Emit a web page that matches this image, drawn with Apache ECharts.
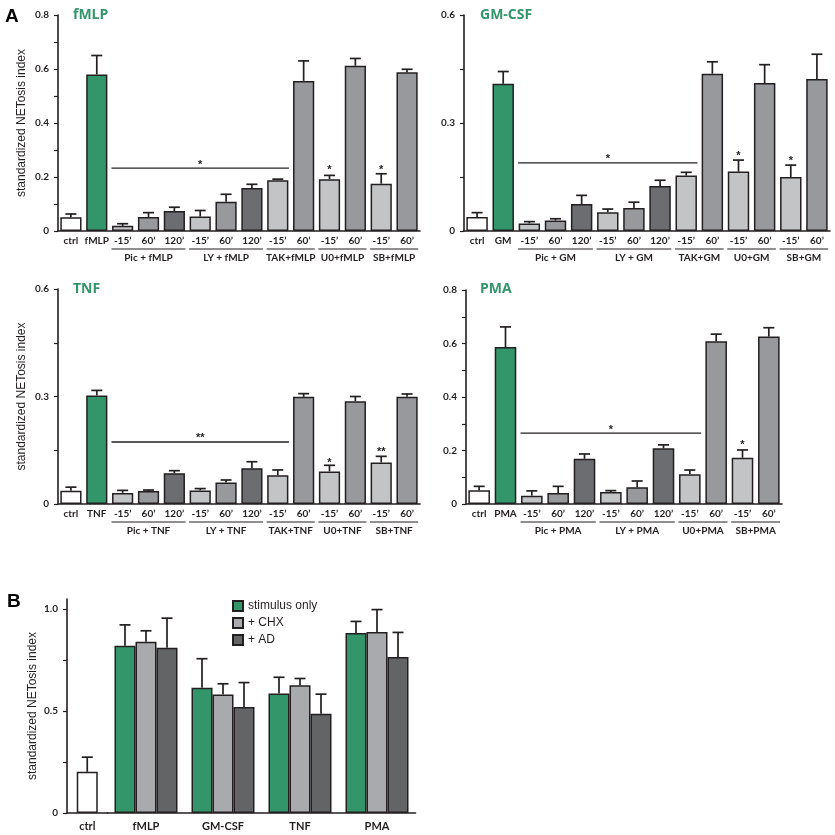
<!DOCTYPE html>
<html>
<head>
<meta charset="utf-8">
<title>standardized NETosis index</title>
<script src="https://cdn.jsdelivr.net/npm/echarts@6/dist/echarts.min.js"></script>
<style>
    html, body { margin: 0; padding: 0; background: #fff; }
    #main { width: 835px; height: 835px; }
</style>
</head>
<body>
<div id="main"></div>
<script type="text/javascript">
    // ---- panel A data (bar value, top of error bar) ----
    var fmlpCats = ['ctrl', 'fMLP', '-15’', '60’', '120’', '-15’', '60’', '120’', '-15’', '60’', '-15’', '60’', '-15’', '60’'];
    var fmlpVal = [0.051, 0.580, 0.019, 0.052, 0.074, 0.054, 0.108, 0.159, 0.188, 0.556, 0.192, 0.612, 0.175, 0.588];
    var fmlpErr = [0.063, 0.650, 0.027, 0.068, 0.088, 0.076, 0.136, 0.173, 0.192, 0.630, 0.206, 0.639, 0.212, 0.599];
    var fmlpGroups = [[2, 4, 'Pic + fMLP'], [5, 7, 'LY + fMLP'], [8, 9, 'TAK+fMLP'], [10, 11, 'U0+fMLP'], [12, 13, 'SB+fMLP']];
    var fmlpSig = [[2, 8, 0.233, 0.252, '*']];
    var fmlpStars = [[10, 0.233, '*'], [12, 0.233, '*']];

    var gmCats = ['ctrl', 'GM', '-15’', '60’', '120’', '-15’', '60’', '120’', '-15’', '60’', '-15’', '60’', '-15’', '60’'];
    var gmVal = [0.039, 0.409, 0.021, 0.029, 0.075, 0.052, 0.064, 0.125, 0.154, 0.437, 0.165, 0.411, 0.150, 0.422];
    var gmErr = [0.051, 0.443, 0.026, 0.034, 0.099, 0.061, 0.080, 0.141, 0.163, 0.470, 0.197, 0.462, 0.183, 0.491];
    var gmGroups = [[2, 4, 'Pic + GM'], [5, 7, 'LY + GM'], [8, 9, 'TAK+GM'], [10, 11, 'U0+GM'], [12, 13, 'SB+GM']];
    var gmSig = [[2, 8, 0.189, 0.206, '*']];
    var gmStars = [[10, 0.214, '*'], [12, 0.200, '*']];

    var tnfCats = ['ctrl', 'TNF', '-15’', '60’', '120’', '-15’', '60’', '120’', '-15’', '60’', '-15’', '60’', '-15’', '60’'];
    var tnfVal = [0.037, 0.303, 0.031, 0.036, 0.086, 0.038, 0.060, 0.100, 0.080, 0.299, 0.091, 0.287, 0.116, 0.299];
    var tnfErr = [0.047, 0.317, 0.038, 0.039, 0.093, 0.043, 0.067, 0.118, 0.095, 0.308, 0.108, 0.300, 0.133, 0.307];
    var tnfGroups = [[2, 4, 'Pic + TNF'], [5, 7, 'LY + TNF'], [8, 9, 'TAK+TNF'], [10, 11, 'U0+TNF'], [12, 13, 'SB+TNF']];
    var tnfSig = [[2, 8, 0.173, 0.190, '**']];
    var tnfStars = [[10, 0.120, '*'], [12, 0.151, '**']];

    var pmaCats = ['ctrl', 'PMA', '-15’', '60’', '120’', '-15’', '60’', '120’', '-15’', '60’', '-15’', '60’'];
    var pmaVal = [0.051, 0.587, 0.031, 0.041, 0.169, 0.045, 0.063, 0.208, 0.111, 0.608, 0.173, 0.626];
    var pmaErr = [0.066, 0.662, 0.049, 0.066, 0.187, 0.050, 0.086, 0.221, 0.127, 0.635, 0.202, 0.659];
    var pmaGroups = [[2, 4, 'Pic + PMA'], [5, 7, 'LY + PMA'], [8, 9, 'U0+PMA'], [10, 11, 'SB+PMA']];
    var pmaSig = [[2, 8, 0.265, 0.284, '*']];
    var pmaStars = [[10, 0.228, '*']];

    // ---- panel B data ----
    var bCtrlCat = ['ctrl'];
    var bCats = ['fMLP', 'GM-CSF', 'TNF', 'PMA'];
    var bCtrlVal = [0.202];
    var bCtrlErr = [0.274];
    var bStimVal = [0.821, 0.614, 0.586, 0.883];
    var bStimErr = [0.923, 0.757, 0.666, 0.940];
    var bChxVal = [0.840, 0.581, 0.627, 0.888];
    var bChxErr = [0.894, 0.634, 0.660, 0.998];
    var bAdVal = [0.811, 0.520, 0.487, 0.765];
    var bAdErr = [0.956, 0.640, 0.583, 0.886];

    var INK = '#231f20';
    var GREEN = '#33966a';
    var LABEL_FONT = 'Liberation Sans Narrow, Lato, sans-serif';
    var ARIAL = 'Liberation Sans, Arial, sans-serif';

    function barColor(cat) {
        if (cat === 'ctrl') return '#ffffff';
        if (cat === '-15’') return '#c3c4c6';
        if (cat === '60’') return '#98999c';
        if (cat === '120’') return '#6c6d70';
        return GREEN;
    }

    function fmtTick(v) {
        return v === 0 ? '0' : v.toFixed(1);
    }

    // whisker + cap
    function errorItem(offset) {
        return function (params, api) {
            var base = api.coord([api.value(0), api.value(1)]);
            var top = api.coord([api.value(0), api.value(2)]);
            var x = base[0] + offset;
            return {
                type: 'group',
                children: [
                    { type: 'line', shape: { x1: x, y1: base[1], x2: x, y2: top[1] }, style: { stroke: INK, lineWidth: 1.7 } },
                    { type: 'line', shape: { x1: x - 5.5, y1: top[1], x2: x + 5.5, y2: top[1] }, style: { stroke: INK, lineWidth: 1.7 } }
                ]
            };
        };
    }

    // underline + treatment name below the axis
    function groupItem(groups) {
        return function (params, api) {
            var g = groups[params.dataIndex];
            var a = api.coord([g[0], 0]);
            var b = api.coord([g[1], 0]);
            var half = api.size([1, 0])[0] * 0.43;
            return {
                type: 'group',
                children: [
                    { type: 'line', shape: { x1: a[0] - half, y1: a[1] + 18, x2: b[0] + half, y2: a[1] + 18 }, style: { stroke: INK, lineWidth: 1.2 } },
                    { type: 'text', x: (a[0] + b[0]) / 2, y: a[1] + 27, style: { text: g[2], align: 'center', verticalAlign: 'middle', fontSize: 10, fontWeight: 'bold', fontFamily: LABEL_FONT, fill: INK } }
                ]
            };
        };
    }

    // significance bar with stars
    function sigItem(sig) {
        return function (params, api) {
            var s = sig[params.dataIndex];
            var a = api.coord([s[0], s[2]]);
            var b = api.coord([s[1], s[2]]);
            var t = api.coord([(s[0] + s[1]) / 2, s[3]]);
            var half = api.size([1, 0])[0] * 0.43;
            return {
                type: 'group',
                children: [
                    { type: 'line', shape: { x1: a[0] - half, y1: a[1], x2: b[0] + half, y2: b[1] }, style: { stroke: INK, lineWidth: 1.3 } },
                    { type: 'text', x: t[0], y: t[1] + 2, style: { text: s[4], align: 'center', verticalAlign: 'middle', fontSize: 11, fontWeight: 'bold', fontFamily: ARIAL, fill: INK } }
                ]
            };
        };
    }

    function starItem(stars) {
        return function (params, api) {
            var s = stars[params.dataIndex];
            var p = api.coord([s[0], s[1]]);
            return { type: 'text', x: p[0], y: p[1] + 2, style: { text: s[2], align: 'center', verticalAlign: 'middle', fontSize: 11, fontWeight: 'bold', fontFamily: ARIAL, fill: INK } };
        };
    }

    var grids = [], xAxes = [], yAxes = [], series = [];

    function panelA(i, pos, cats, vals, errs, groups, sig, stars, yMax, tickStep, labelStep, yName) {
        grids.push({ left: pos[0], top: pos[1], width: pos[2], height: pos[3] });
        xAxes.push({
            type: 'category', gridIndex: i, data: cats,
            axisLine: { lineStyle: { color: INK, width: 1.6 } },
            axisTick: { show: false },
            axisLabel: { interval: 0, margin: 5, fontSize: 10, fontWeight: 'bold', fontFamily: LABEL_FONT, color: INK }
        });
        var ticks = [], labels = [];
        for (var k = 0; k * tickStep <= yMax + 1e-9; k++) ticks.push(+(k * tickStep).toFixed(2));
        for (var m = 0; m * labelStep <= yMax + 1e-9; m++) labels.push(+(m * labelStep).toFixed(2));
        yAxes.push({
            type: 'value', gridIndex: i, min: 0, max: yMax,
            name: yName, nameLocation: 'middle', nameGap: 30,
            nameTextStyle: { fontSize: 12, fontFamily: ARIAL, color: INK },
            axisLine: { show: true, lineStyle: { color: INK, width: 1.6 } },
            axisTick: { show: true, length: 4, lineStyle: { color: INK, width: 1.2 }, customValues: ticks },
            axisLabel: { margin: 9, fontSize: 10, fontWeight: 'bold', fontFamily: LABEL_FONT, color: INK, customValues: labels, formatter: fmtTick },
            splitLine: { show: false }
        });
        series.push({
            type: 'bar', xAxisIndex: i, yAxisIndex: i, barWidth: '82%',
            data: vals.map(function (v, j) { return { value: v, itemStyle: { color: barColor(cats[j]) } }; }),
            itemStyle: { borderColor: INK, borderWidth: 1.5 },
            emphasis: { disabled: true }, silent: true
        });
        series.push({
            type: 'custom', xAxisIndex: i, yAxisIndex: i, silent: true,
            renderItem: errorItem(0),
            data: vals.map(function (v, j) { return [j, v, errs[j]]; })
        });
        series.push({
            type: 'custom', xAxisIndex: i, yAxisIndex: i, silent: true,
            renderItem: groupItem(groups),
            data: groups.map(function (g) { return [g[0], 0]; })
        });
        series.push({
            type: 'custom', xAxisIndex: i, yAxisIndex: i, silent: true,
            renderItem: sigItem(sig),
            data: sig.map(function (s) { return [s[0], s[2]]; })
        });
        series.push({
            type: 'custom', xAxisIndex: i, yAxisIndex: i, silent: true,
            renderItem: starItem(stars),
            data: stars.map(function (s) { return [s[0], s[1]]; })
        });
    }

    panelA(0, [58, 15, 362, 216], fmlpCats, fmlpVal, fmlpErr, fmlpGroups, fmlpSig, fmlpStars, 0.8, 0.1, 0.2, 'standardized NETosis index');
    panelA(1, [464, 15, 366, 216], gmCats, gmVal, gmErr, gmGroups, gmSig, gmStars, 0.6, 0.15, 0.3, '');
    panelA(2, [58, 289, 362, 215], tnfCats, tnfVal, tnfErr, tnfGroups, tnfSig, tnfStars, 0.6, 0.15, 0.3, 'standardized NETosis index');
    panelA(3, [466, 290, 316, 214], pmaCats, pmaVal, pmaErr, pmaGroups, pmaSig, pmaStars, 0.8, 0.1, 0.2, '');

    // ---- panel B: ctrl grid + stimulus grid share one y scale ----
    grids.push({ left: 67, top: 599, width: 40.5, height: 214 });
    grids.push({ left: 107.5, top: 599, width: 308, height: 214 });
    var bxLabel = { interval: 0, margin: 8, fontSize: 11, fontWeight: 'bold', fontFamily: LABEL_FONT, color: INK };
    xAxes.push({ type: 'category', gridIndex: 4, data: bCtrlCat, axisLine: { lineStyle: { color: INK, width: 1.6 } }, axisTick: { show: false }, axisLabel: bxLabel });
    xAxes.push({ type: 'category', gridIndex: 5, data: bCats, axisLine: { lineStyle: { color: INK, width: 1.6 } }, axisTick: { show: false }, axisLabel: bxLabel });
    yAxes.push({
        type: 'value', gridIndex: 4, min: 0, max: 1.05,
        name: 'standardized NETosis index', nameLocation: 'middle', nameGap: 28,
        nameTextStyle: { fontSize: 12, fontFamily: ARIAL, color: INK },
        axisLine: { show: true, lineStyle: { color: INK, width: 1.6 } },
        axisTick: { show: true, length: 4, lineStyle: { color: INK, width: 1.2 }, customValues: [0, 0.25, 0.5, 0.75, 1] },
        axisLabel: { margin: 9, fontSize: 10, fontWeight: 'bold', fontFamily: LABEL_FONT, color: INK, customValues: [0, 0.5, 1], formatter: fmtTick },
        splitLine: { show: false }
    });
    yAxes.push({ type: 'value', gridIndex: 5, min: 0, max: 1.05, show: false, splitLine: { show: false } });

    series.push({
        type: 'bar', xAxisIndex: 4, yAxisIndex: 4, barWidth: 21, data: bCtrlVal, silent: true,
        itemStyle: { color: '#ffffff', borderColor: INK, borderWidth: 1.5 }
    });
    series.push({
        type: 'custom', xAxisIndex: 4, yAxisIndex: 4, silent: true, renderItem: errorItem(0),
        data: bCtrlVal.map(function (v, j) { return [j, v, bCtrlErr[j]]; })
    });
    var bSets = [
        ['stimulus only', bStimVal, bStimErr, GREEN],
        ['+ CHX', bChxVal, bChxErr, '#a9aaad'],
        ['+ AD', bAdVal, bAdErr, '#636466']
    ];
    bSets.forEach(function (s) {
        series.push({
            name: s[0], type: 'bar', xAxisIndex: 5, yAxisIndex: 5, barWidth: 21, barGap: '0%', data: s[1], silent: true,
            itemStyle: { color: s[3], borderColor: INK, borderWidth: 1.5 }
        });
    });
    bSets.forEach(function (s, k) {
        series.push({
            type: 'custom', xAxisIndex: 5, yAxisIndex: 5, silent: true, renderItem: errorItem((k - 1) * 21),
            data: s[1].map(function (v, j) { return [j, v, s[2][j]]; })
        });
    });

    var titleFont = { color: GREEN, fontSize: 14, fontWeight: 'bold', fontFamily: 'Open Sans, sans-serif' };
    var letterFont = { color: '#000', fontSize: 19, fontWeight: 'bold', fontFamily: ARIAL };

    var myChart = echarts.init(document.getElementById('main'), null, { renderer: 'canvas' });
    myChart.setOption({
        animation: false,
        backgroundColor: '#ffffff',
        title: [
            { text: 'A', left: 5, top: 7, padding: 0, textStyle: letterFont },
            { text: 'B', left: 7, top: 592, padding: 0, textStyle: letterFont },
            { text: 'fMLP', left: 73, top: 8, padding: 0, textStyle: titleFont },
            { text: 'GM-CSF', left: 480, top: 8, padding: 0, textStyle: titleFont },
            { text: 'TNF', left: 73, top: 282, padding: 0, textStyle: titleFont },
            { text: 'PMA', left: 480, top: 282, padding: 0, textStyle: titleFont }
        ],
        legend: {
            data: ['stimulus only', '+ CHX', '+ AD'],
            orient: 'vertical', left: 232, top: 600, padding: 0,
            icon: 'rect', itemWidth: 10, itemHeight: 10, itemGap: 5,
            selectedMode: false,
            textStyle: { fontSize: 12, fontFamily: ARIAL, color: INK }
        },
        grid: grids,
        xAxis: xAxes,
        yAxis: yAxes,
        series: series
    });
</script>
</body>
</html>
